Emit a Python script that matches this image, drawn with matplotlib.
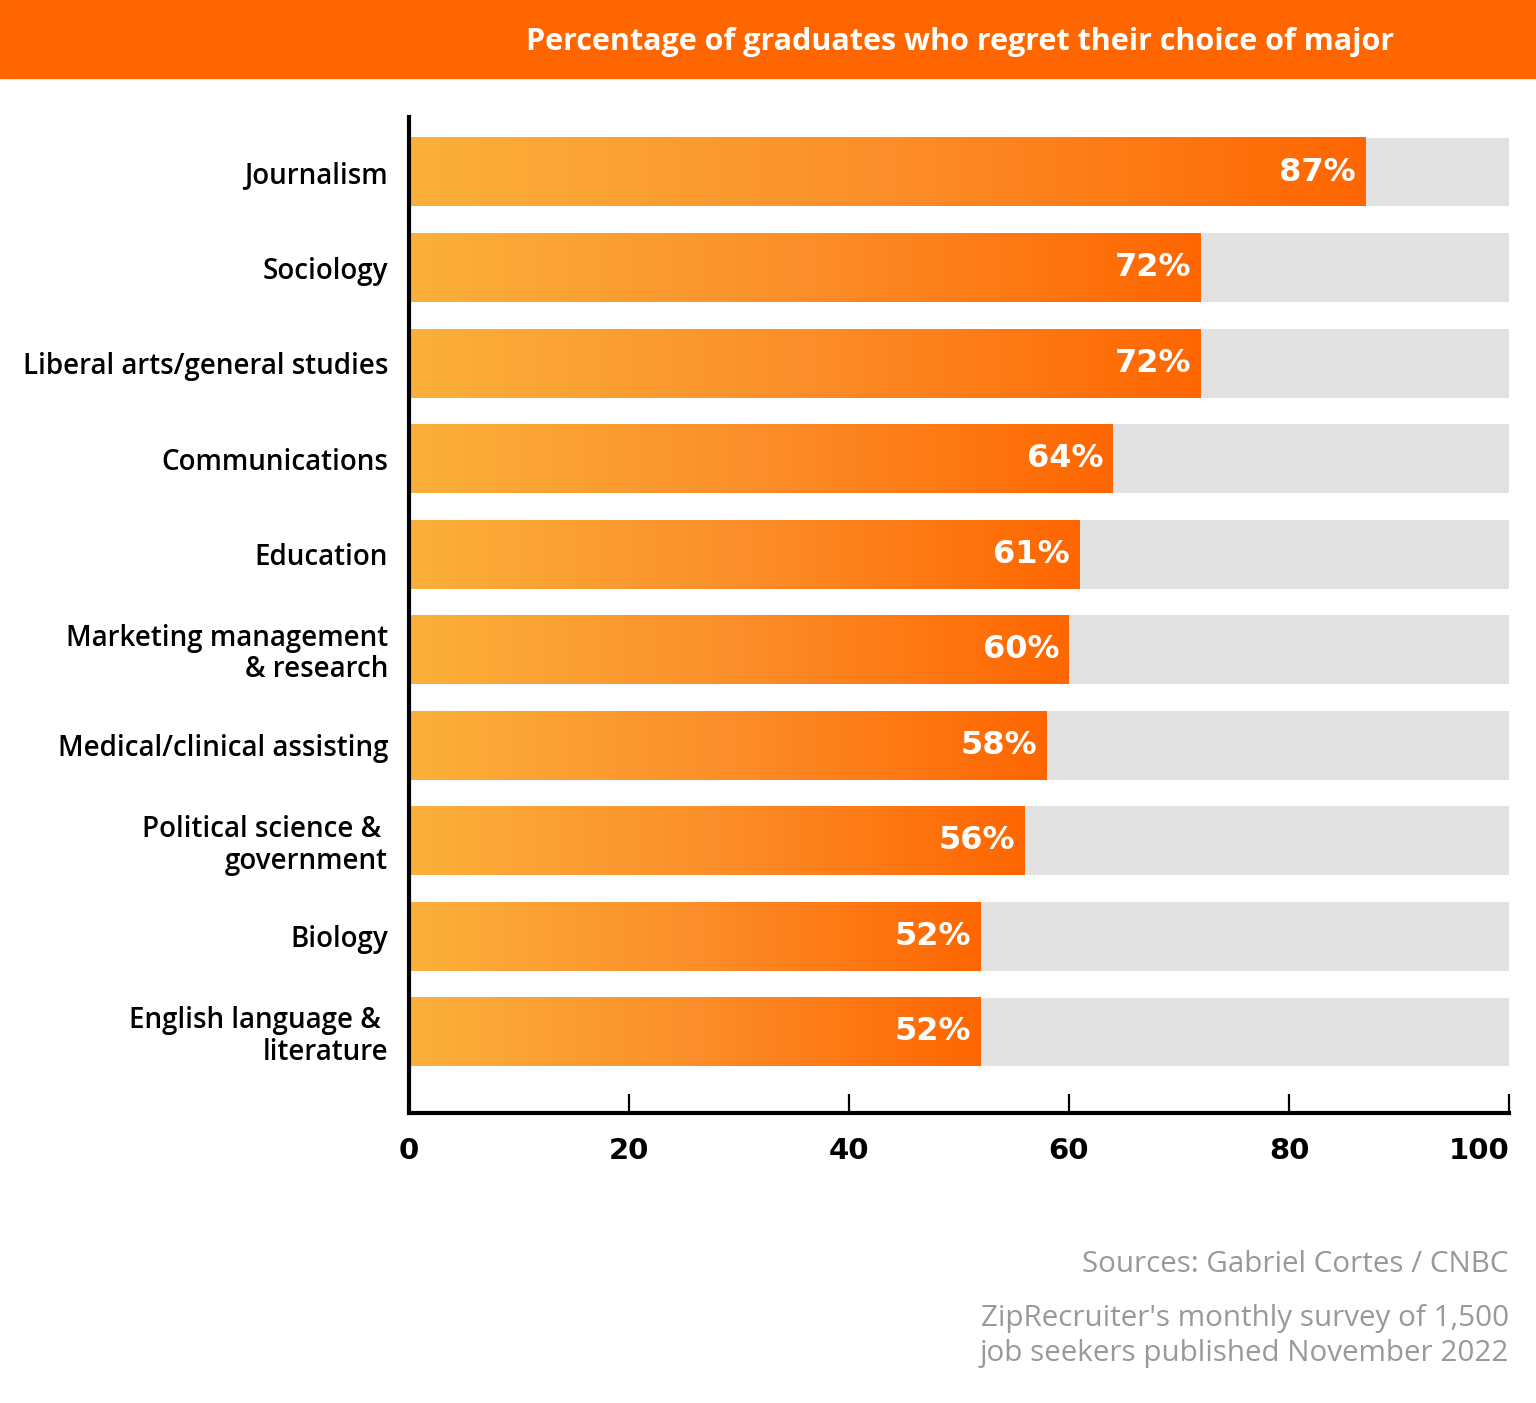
import matplotlib.pyplot as plt
import numpy as np
from matplotlib.colors import LinearSegmentedColormap
from matplotlib.patches import Rectangle

majors = ["Journalism", "Sociology", "Liberal arts/general studies", "Communications",
          "Education", "Marketing management\n& research", "Medical/clinical assisting",
          "Political science & \ngovernment", "Biology", "English language & \nliterature"]
pct = [87, 72, 72, 64, 61, 60, 58, 56, 52, 52]
xticks = [0, 20, 40, 60, 80, 100]

label_font = "Open Sans"
num_font = "DejaVu Sans"

fig = plt.figure(figsize=(15.36, 14.03), dpi=100)

# orange header band
fig.patches.append(Rectangle((0, 1 - 78 / 1403), 1, 78 / 1403, transform=fig.transFigure,
                             color="#FF6600", zorder=0))
fig.text(960 / 1536, 1 - 42 / 1403, "Percentage of graduates who regret their choice of major",
         color="white", fontsize=22, fontweight="bold", family=label_font,
         ha="center", va="center")

ax = fig.add_axes([409 / 1536, 1 - 1113 / 1403, 1100 / 1536, (1113 - 117) / 1403])

cmap = LinearSegmentedColormap.from_list("grad", ["#FBB03B", "#FC8E2A", "#FF6600"])
grad = np.linspace(0, 1, 256).reshape(1, -1)
h = 0.72
for i, (m, v) in enumerate(zip(majors, pct)):
    ax.barh(i, 100, height=h, color="#E1E1E1", zorder=1)
    ax.imshow(grad, cmap=cmap, aspect="auto", extent=[0, v, i + h / 2, i - h / 2], zorder=2)
    ax.text(v - 0.9, i, f"{v}%", color="white", fontsize=23, fontweight="bold",
            family=num_font, ha="right", va="center", zorder=3)

ax.set_xlim(0, 100)
ax.set_ylim(9.848, -0.576)
ax.set_yticks(range(len(majors)))
ax.set_yticklabels(majors, fontsize=20, fontweight="semibold", family=label_font,
                   linespacing=1.1)
ax.tick_params(axis="y", length=0, pad=15)
ax.set_xticks(xticks)
ax.set_xticklabels([str(t) for t in xticks], fontsize=21, fontweight="bold", family=num_font)
ax.get_xticklabels()[-1].set_ha("right")
ax.tick_params(axis="x", direction="in", length=14, width=1.6, pad=17)
for s in ["top", "right"]:
    ax.spines[s].set_visible(False)
ax.spines["left"].set_linewidth(3)
ax.spines["bottom"].set_linewidth(3)

fig.text(1509 / 1536, 1 - 1265 / 1403, "Sources: Gabriel Cortes / CNBC", color="#999999",
         fontsize=21.3, fontweight="medium", family=label_font, ha="right", va="center")
fig.text(1509 / 1536, 1 - 1336 / 1403,
         "ZipRecruiter's monthly survey of 1,500\njob seekers published November 2022",
         color="#999999", fontsize=21.3, fontweight="medium", family=label_font,
         ha="right", va="center", linespacing=1.3)

fig.savefig("out.png", dpi=100)
